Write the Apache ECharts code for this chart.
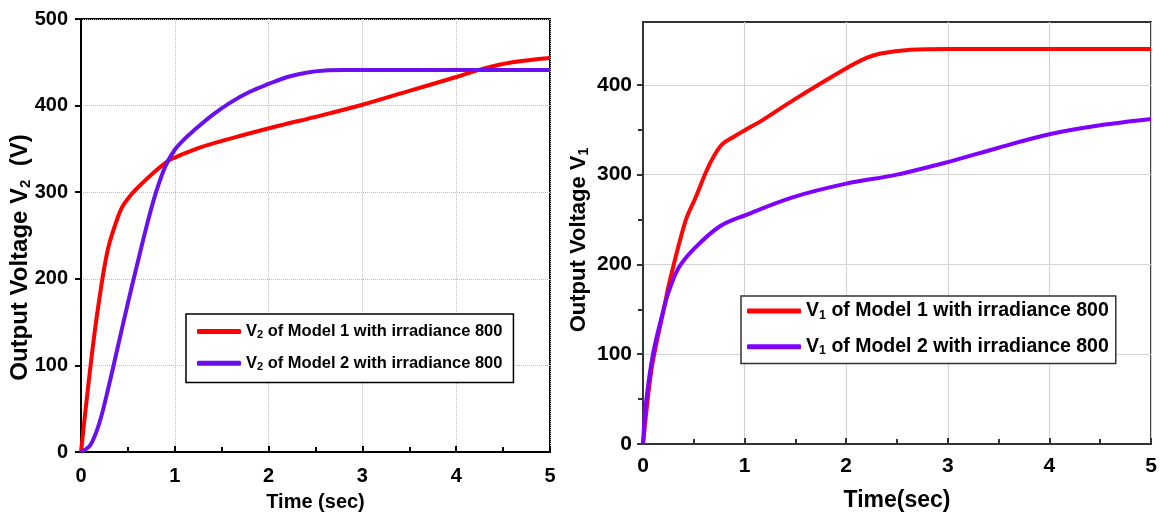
<!DOCTYPE html>
<html>
<head>
<meta charset="utf-8">
<script src="https://cdn.jsdelivr.net/npm/echarts@6/dist/echarts.min.js"></script>
<style>
  html, body { margin: 0; padding: 0; background: #ffffff; }
  #chart { width: 1160px; height: 517px; }
</style>
</head>
<body>
<div id="chart"></div>
<script>
// ---- Left panel: output voltage V2 (V) vs time (sec) ----
const timeV2Model1 = [0, 0.05, 0.10, 0.15, 0.20, 0.25, 0.30, 0.38, 0.44, 0.55, 0.66, 0.80, 0.94, 1.00, 1.25, 1.63, 2.12, 2.50, 3.00, 3.50, 4.00, 4.30, 4.60, 5.00];
const v2Model1     = [0, 50, 98, 142, 180, 214, 240, 267, 283, 299, 311, 325, 337, 340, 351, 363, 377, 387, 401, 417, 433, 443, 450, 455];
const timeV2Model2 = [0, 0.10, 0.20, 0.30, 0.40, 0.50, 0.60, 0.70, 0.80, 0.90, 1.00, 1.10, 1.20, 1.40, 1.60, 1.80, 2.00, 2.20, 2.40, 2.60, 2.80, 3.50, 4.50, 5.00];
const v2Model2     = [0, 8, 35, 78, 125, 172, 217, 261, 300, 330, 349, 361, 371, 389, 404, 416, 425, 433, 438, 440.5, 441, 441, 441, 441];

// ---- Right panel: output voltage V1 vs time (sec) ----
const timeV1Model1 = [0, 0.06, 0.10, 0.21, 0.26, 0.42, 0.52, 0.62, 0.70, 0.78, 0.89, 1.01, 1.18, 1.48, 2.01, 2.20, 2.34, 2.63, 3.02, 4.00, 5.00];
const v1Model1     = [0, 63, 94, 153, 180, 249, 275, 303, 321, 334, 342, 350, 361, 383, 419, 430, 435, 439, 440, 440, 440];
const timeV1Model2 = [0, 0.03, 0.10, 0.21, 0.26, 0.35, 0.49, 0.75, 1.01, 1.48, 2.00, 2.50, 3.00, 3.50, 4.00, 4.50, 5.00];
const v1Model2     = [0, 46, 101, 153, 172, 196, 216, 242, 255, 275, 290, 300, 314, 330, 345, 355, 362];

// Axis ranges / tick steps
const timeRange = [0, 5];
const timeStep = 1;
const v2Range = [0, 500];
const v1Range = [0, 470];
const voltStep = 100;
const v1MajorTicks = [0, 100, 200, 300, 400];
const v1MinorTicks = [50, 150, 250, 350];

// Series / legend labels
const nameV2M1 = 'V2 of Model 1 with irradiance 800';
const nameV2M2 = 'V2 of Model 2 with irradiance 800';
const nameV1M1 = 'V1 of Model 1 with irradiance 800';
const nameV1M2 = 'V1 of Model 2 with irradiance 800';

const FONT = "'Liberation Sans', Arial, sans-serif";

const pairs = (xs, ys) => xs.map((x, i) => [x, ys[i]]);
const subRich = (size, subSize, tailPad) => ({
  a: { fontFamily: FONT, fontWeight: 'bold', fontSize: size, color: '#000', lineHeight: size + 2 },
  s: { fontFamily: FONT, fontWeight: 'bold', fontSize: subSize, color: '#000', verticalAlign: 'bottom', lineHeight: 10 },
  t: { fontFamily: FONT, fontWeight: 'bold', fontSize: size, color: '#000', lineHeight: size + 2, padding: [0, tailPad || 0, 0, 0] }
});
const subFormat = name => name.replace(/^V(\d)(.*)$/, '{a|V}{s|$1}{a|$2}');

function xAxisFor(gridIndex, labelSize, labelMargin, title, titleSize, titleGap, axisColor, gridStyle) {
  return {
    gridIndex, type: 'value', min: timeRange[0], max: timeRange[1], interval: timeStep,
    name: title, nameLocation: 'middle', nameGap: titleGap, nameMoveOverlap: false,
    nameTextStyle: { fontFamily: FONT, fontWeight: 'bold', fontSize: titleSize, color: '#000' },
    axisLine: { lineStyle: { color: axisColor, width: 2 } },
    axisTick: { inside: true, length: 6, lineStyle: { color: axisColor, width: 2 } },
    minorTick: { show: true, splitNumber: 2, length: 5, lineStyle: { color: axisColor, width: 2 } },
    axisLabel: { fontFamily: FONT, fontWeight: 'bold', fontSize: labelSize, color: '#000', margin: labelMargin },
    splitLine: { show: true, lineStyle: gridStyle }
  };
}

const chart = echarts.init(document.getElementById('chart'), null, { renderer: 'canvas' });

chart.setOption({
  backgroundColor: '#ffffff',
  animation: false,
  grid: [
    { left: 81, top: 19, width: 469, height: 433, show: true, borderColor: '#000', borderWidth: 2, backgroundColor: 'transparent' },
    { left: 643, top: 22, width: 508, height: 422, show: true, borderColor: '#333', borderWidth: 2, backgroundColor: 'transparent' }
  ],
  xAxis: [
    xAxisFor(0, 20, 14, 'Time (sec)', 20, 40, '#000', { type: 'dotted', color: '#bdbdbd', width: 1 }),
    xAxisFor(1, 21, 12, 'Time(sec)', 23, 45, '#333', { type: 'solid', color: '#d4d4d4', width: 1.2 })
  ],
  yAxis: [
    {
      gridIndex: 0, type: 'value', min: v2Range[0], max: v2Range[1], interval: voltStep,
      name: '{a|Output Voltage V}{s|2}{t|  (V)}', nameLocation: 'middle', nameRotate: 90, nameGap: 48, nameMoveOverlap: false,
      nameTextStyle: { rich: subRich(24, 15, 44) },
      axisLine: { lineStyle: { color: '#000', width: 2 } },
      axisTick: { inside: false, length: 6, lineStyle: { color: '#000', width: 2 } },
      axisLabel: { fontFamily: FONT, fontWeight: 'bold', fontSize: 20, color: '#000', margin: 13 },
      splitLine: { show: true, lineStyle: { type: 'dotted', color: '#bdbdbd', width: 1 } }
    },
    {
      gridIndex: 1, type: 'value', min: v1Range[0], max: v1Range[1], interval: voltStep,
      name: '{a|Output Voltage V}{s|1}{t|}', nameLocation: 'middle', nameRotate: 90, nameGap: 52, nameMoveOverlap: false,
      nameTextStyle: { rich: subRich(22, 14, 14) },
      axisLine: { lineStyle: { color: '#333', width: 2 } },
      axisTick: { inside: false, length: 6, customValues: v1MajorTicks, lineStyle: { color: '#333', width: 2 } },
      axisLabel: { fontFamily: FONT, fontWeight: 'bold', fontSize: 21, color: '#000', margin: 11, customValues: v1MajorTicks },
      splitLine: { show: true, lineStyle: { type: 'solid', color: '#d4d4d4', width: 1.2 } }
    },
    {
      // minor tick marks on the V1 axis
      gridIndex: 1, type: 'value', min: v1Range[0], max: v1Range[1], position: 'left',
      axisLine: { show: false },
      axisTick: { show: true, inside: false, length: 5, customValues: v1MinorTicks, lineStyle: { color: '#333', width: 2 } },
      axisLabel: { show: false },
      splitLine: { show: false }
    }
  ],
  legend: [
    {
      data: [nameV2M1, nameV2M2], orient: 'vertical', left: 186, top: 314,
      icon: 'roundRect', itemWidth: 44, itemHeight: 5, itemGap: 14, itemTextGap: 9,
      padding: [9, 11, 10, 11], borderColor: '#000', borderWidth: 1.5, backgroundColor: '#fff',
      formatter: subFormat, textStyle: { rich: subRich(16.5, 11) }
    },
    {
      data: [nameV1M1, nameV1M2], orient: 'vertical', left: 741, top: 296,
      icon: 'roundRect', itemWidth: 54, itemHeight: 5, itemGap: 15, itemTextGap: 6,
      padding: [5, 7, 6, 6], borderColor: '#333', borderWidth: 1.5, backgroundColor: '#fff',
      formatter: subFormat, textStyle: { rich: subRich(19.5, 12.5) }
    }
  ],
  series: [
    { name: nameV2M1, type: 'line', xAxisIndex: 0, yAxisIndex: 0, data: pairs(timeV2Model1, v2Model1),
      smooth: 0.35, showSymbol: false, color: '#ff0000', lineStyle: { width: 4, color: '#ff0000' }, z: 3 },
    { name: nameV2M2, type: 'line', xAxisIndex: 0, yAxisIndex: 0, data: pairs(timeV2Model2, v2Model2),
      smooth: 0.35, showSymbol: false, color: '#6a10ee', lineStyle: { width: 4, color: '#6a10ee' }, z: 4 },
    { name: nameV1M1, type: 'line', xAxisIndex: 1, yAxisIndex: 1, data: pairs(timeV1Model1, v1Model1),
      smooth: 0.35, showSymbol: false, color: '#ff0505', lineStyle: { width: 4, color: '#ff0505' }, z: 3 },
    { name: nameV1M2, type: 'line', xAxisIndex: 1, yAxisIndex: 1, data: pairs(timeV1Model2, v1Model2),
      smooth: 0.35, showSymbol: false, color: '#8000ff', lineStyle: { width: 4, color: '#8000ff' }, z: 4 }
  ]
});
</script>
</body>
</html>
